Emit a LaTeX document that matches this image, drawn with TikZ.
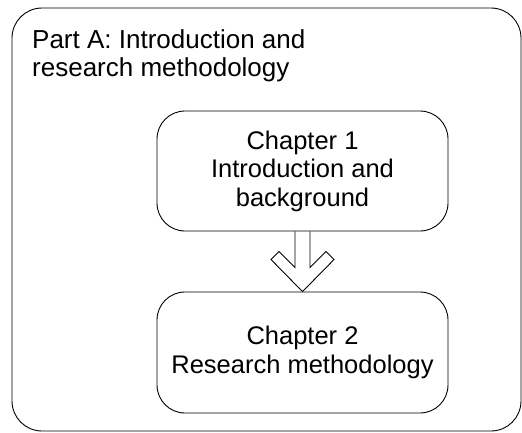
\documentclass[tikz,border=0pt]{standalone}
\usepackage{fontspec}
\setmainfont{Liberation Sans}
\usetikzlibrary{calc}
\begin{document}
\begin{tikzpicture}[x=1pt,y=-1pt,
  framebox/.style={draw, line width=0.9pt, rounded corners=30pt,
    minimum width=509pt, minimum height=423pt, inner sep=0pt},
  parttitle/.style={inner sep=0pt, align=left,
    font=\fontsize{26}{28.5}\selectfont},
  chapbox/.style={draw, line width=0.9pt, rounded corners=28pt,
    minimum width=291pt, minimum height=120pt, inner sep=0pt,
    align=center, font=\fontsize{25.5}{28.5}\selectfont},
  blockarrow/.style={draw, line width=0.9pt, line join=miter}]
\useasboundingbox (0,0) rectangle (522,432);
% outer frame of Part A
\node[framebox] (part) at (266.5,219.5) {};
\node[parttitle, anchor=base west] (title) at (32,76.5)
  {Part A: Introduction and\\research methodology};
% chapter boxes
\node[chapbox] (ch1) at (302.5,171) {Chapter 1\\Introduction and\\background};
\node[chapbox, minimum height=121pt] (ch2) at (302.5,352.5)
  {Chapter 2\\Research methodology};
% hollow block arrow from chapter 1 to chapter 2
\draw[blockarrow]
  ($(ch1.south)+(-7.5,0)$) -- ($(ch2.north)+(-7.5,-24)$)
  -- ($(ch2.north)+(-23.5,-40)$) -- ($(ch2.north)+(-31.5,-32)$)
  -- (ch2.north)
  -- ($(ch2.north)+(31.5,-32)$) -- ($(ch2.north)+(23.5,-40)$)
  -- ($(ch2.north)+(7.5,-24)$) -- ($(ch1.south)+(7.5,0)$);
\end{tikzpicture}
\end{document}
